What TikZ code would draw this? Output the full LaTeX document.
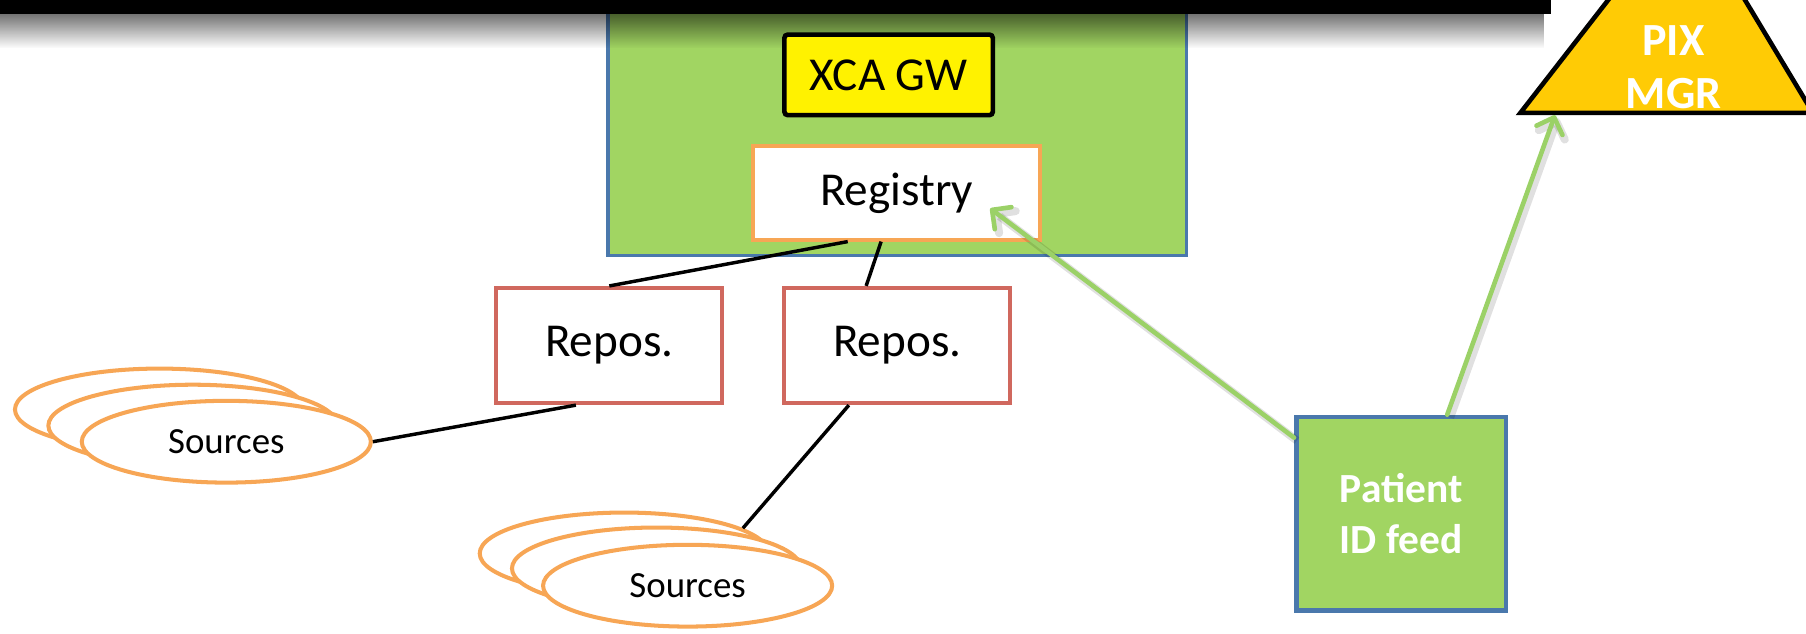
\documentclass[tikz,border=0pt]{standalone}
\usepackage{fontspec}
\setmainfont{Carlito}
\usepackage{xcolor}
\usetikzlibrary{arrows.meta,shapes.geometric,fadings}

\definecolor{boxgreen}{HTML}{A1D562}
\definecolor{boxblue}{HTML}{4A78AC}
\definecolor{regorange}{HTML}{F7A655}
\definecolor{reposred}{HTML}{D0685E}
\definecolor{pixgold}{HTML}{FFCB05}
\definecolor{feedgreen}{HTML}{9BD167}

\tikzset{
  bigtext/.style={font=\fontsize{41}{41}\selectfont},
  repobox/.style={draw=reposred, line width=3.5pt, fill=white, minimum width=196pt,
    minimum height=100pt, bigtext},
  srcell/.style={ellipse, draw=regorange, line width=3.5pt, fill=white, minimum width=251pt,
    minimum height=71pt, inner sep=0pt, font=\fontsize{32}{36}\selectfont},
  link/.style={line width=3pt},
  feedarrow/.style={draw=feedgreen, line width=4pt, line cap=round,
    -{Straight Barb[length=12pt,width=24pt,round]},
    preaction={draw=black, opacity=0.12, line width=7pt,
      transform canvas={shift={(2.5pt,-2.5pt)}}}}
}

\begin{document}
\begin{tikzpicture}[x=1pt, y=-1pt]
        \useasboundingbox (0,0) rectangle (1568,550);
        % gateway community
        \node[draw=boxblue, fill=boxgreen, line width=3pt, minimum width=502pt,
        minimum height=230pt] (hub) at (779,107) {};
        \fill[black, opacity=0.55, path fading=south] (0,12) rectangle (1340,42);
        \fill[black] (0,0) rectangle (1347,12);
        \node[draw=black, fill=yellow, line width=4pt, rounded corners=3pt, minimum width=181pt,
        minimum height=70pt, bigtext] (xca) at (771.5,65) {XCA GW};
        \node[draw=regorange, fill=white, line width=3.5pt, minimum width=249pt,
        minimum height=81pt, bigtext] (reg) at (778.5,167.5) {Registry};
        \node[repobox] (repos1) at (529,300) {Repos.};
        \node[repobox] (repos2) at (779,300) {Repos.};
        % PIX manager
        \begin{scope}
        \clip (0,0) rectangle (1568,550);
        \filldraw[fill=pixgold, draw=black, line width=4pt] (1320,98) -- (1404,-10)
        -- (1509,-10) -- (1574,98) -- cycle;
        \end{scope}
        \node[text=white, align=center, font=\bfseries\fontsize{40}{46}\selectfont]
        (pix) at (1453,58) {PIX\\MGR};
        \coordinate (pixbase) at (1350,100);
        % sources
        \node[srcell] (src1c) at (138.5,355.5) {};
        \node[srcell] (src1b) at (167.5,369.5) {};
        \node[srcell] (src1a) at (196.5,383.5) {Sources};
        \node[srcell] (src2c) at (542,480.5) {};
        \node[srcell] (src2b) at (570,493.5) {};
        \node[srcell] (src2a) at (597,508.5) {Sources};
        \draw[link] ([xshift=-42.5pt]reg.south) -- (repos1.north);
        \draw[link] ([xshift=-13.5pt]reg.south) -- ([xshift=-27pt]repos2.north);
        \draw[link] ([xshift=-29pt]repos1.south) -- (src1a.east);
        \draw[link] ([xshift=-42pt]repos2.south) -- (src2c.12);
        % patient feed
        \node[draw=boxblue, fill=boxgreen, line width=4pt, minimum width=182pt,
        minimum height=168pt, text=white, align=center,
        font=\bfseries\fontsize{36}{44}\selectfont] (pat) at (1216.5,446) {Patient\\ID feed};
        \draw[feedarrow] ([yshift=66pt]pat.west) -- ([xshift=-45pt,yshift=-13.5pt]reg.east);
        \draw[feedarrow] ([xshift=40pt]pat.north) -- (pixbase);
\end{tikzpicture}
\end{document}
